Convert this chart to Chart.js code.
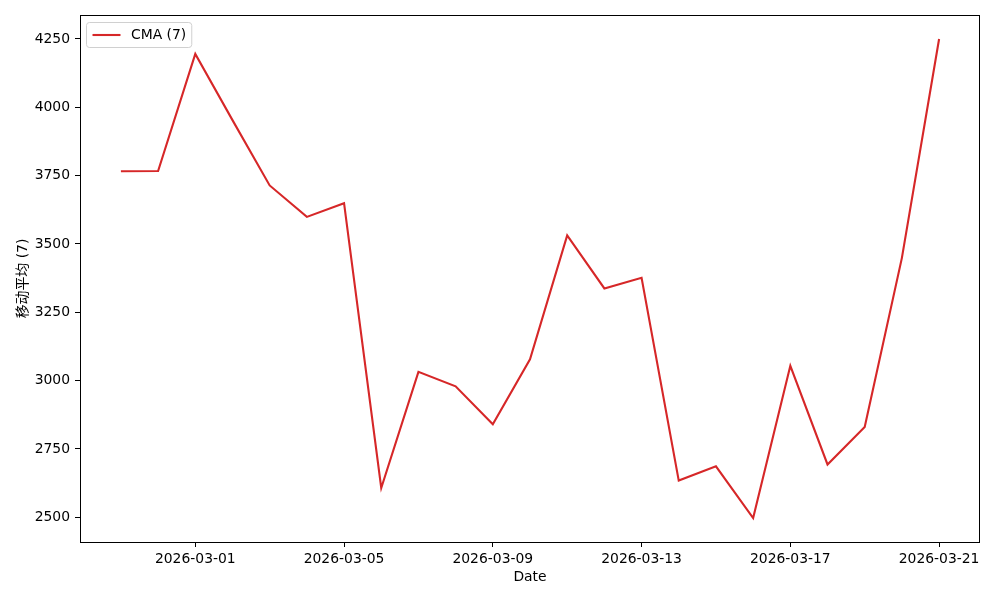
<!DOCTYPE html>
<html>
<head>
<meta charset="utf-8">
<script src="https://cdn.jsdelivr.net/npm/chart.js@4/dist/chart.umd.min.js"></script>
<style>
  html, body { margin: 0; padding: 0; background: #ffffff; }
  #wrap { width: 1000px; height: 600px; position: relative; }
</style>
</head>
<body>
<div id="wrap"><canvas id="c" width="1000" height="600"></canvas></div>
<script>
// ---- data ----
const dates = [
  "2026-02-27","2026-02-28","2026-03-01","2026-03-02","2026-03-03","2026-03-04",
  "2026-03-05","2026-03-06","2026-03-07","2026-03-08","2026-03-09","2026-03-10",
  "2026-03-11","2026-03-12","2026-03-13","2026-03-14","2026-03-15","2026-03-16",
  "2026-03-17","2026-03-18","2026-03-19","2026-03-20","2026-03-21"
];
const cmaValues = [
  3766, 3767, 4195, 3953, 3714, 3599,
  3649, 2607, 3032, 2979, 2840, 3078,
  3531, 3337, 3376, 2634, 2686, 2497,
  3054, 2693, 2830, 3449, 4250
];
const seriesLabel = "CMA (7)";
const xTickDates = ["2026-03-01","2026-03-05","2026-03-09","2026-03-13","2026-03-17","2026-03-21"];
const yTickValues = [2500, 2750, 3000, 3250, 3500, 3750, 4000, 4250];
const xTitle = "Date";
const yTitle = "移动平均 (7)";

// ---- chart ----
const FONT = "'DejaVu Sans', 'Noto Sans CJK SC', sans-serif";
const FS = 13.9;
const RED = "#d62728";

const points = dates.map((d, i) => ({ x: i, y: cmaValues[i] }));
const n = dates.length;
const xSpan = n - 1;
const yMin = Math.min(...cmaValues), yMax = Math.max(...cmaValues);
const ySpan = yMax - yMin;

const framePlugin = {
  id: 'frame',
  afterDatasetsDraw(chart) {
    const { ctx, chartArea: a } = chart;
    ctx.save();
    ctx.strokeStyle = '#000';
    ctx.lineWidth = 1;
    const l = Math.round(a.left), r = Math.round(a.right), t = Math.round(a.top), b = Math.round(a.bottom);
    ctx.strokeRect(l + 0.5, t + 0.5, r - l - 1, b - t);
    ctx.restore();
  },
  afterDraw(chart) {
    // legend box in upper-left of plot area (matplotlib style)
    const { ctx, chartArea: a } = chart;
    const ds = chart.data.datasets[0];
    ctx.save();
    ctx.font = FS + "px " + FONT;
    const tw = ctx.measureText(ds.label).width;
    const bx = a.left + 6.5, by = a.top + 7.5;
    const bw = 50 + tw, bh = 25;
    const r = 3;
    ctx.beginPath();
    ctx.moveTo(bx + r, by);
    ctx.lineTo(bx + bw - r, by);
    ctx.quadraticCurveTo(bx + bw, by, bx + bw, by + r);
    ctx.lineTo(bx + bw, by + bh - r);
    ctx.quadraticCurveTo(bx + bw, by + bh, bx + bw - r, by + bh);
    ctx.lineTo(bx + r, by + bh);
    ctx.quadraticCurveTo(bx, by + bh, bx, by + bh - r);
    ctx.lineTo(bx, by + r);
    ctx.quadraticCurveTo(bx, by, bx + r, by);
    ctx.closePath();
    ctx.fillStyle = 'rgba(255,255,255,0.8)';
    ctx.fill();
    ctx.strokeStyle = '#d0d0d0';
    ctx.lineWidth = 1;
    ctx.stroke();
    const cy = by + bh / 2;
    ctx.strokeStyle = ds.borderColor;
    ctx.lineWidth = ds.borderWidth;
    ctx.beginPath();
    ctx.moveTo(bx + 6, cy);
    ctx.lineTo(bx + 34, cy);
    ctx.stroke();
    ctx.fillStyle = '#000';
    ctx.textBaseline = 'middle';
    ctx.textAlign = 'left';
    ctx.fillText(ds.label, bx + 44.5, cy + 0.5);
    ctx.restore();
  }
};

new Chart(document.getElementById('c'), {
  type: 'line',
  data: {
    datasets: [{
      label: seriesLabel,
      data: points,
      borderColor: RED,
      backgroundColor: RED,
      borderWidth: 2.1,
      pointRadius: 0,
      tension: 0,
      fill: false
    }]
  },
  options: {
    responsive: false,
    animation: false,
    devicePixelRatio: 1,
    layout: { padding: { top: 15, right: 20, left: 0, bottom: 0 } },
    plugins: { legend: { display: false }, tooltip: { enabled: false } },
    scales: {
      x: {
        type: 'linear',
        min: -0.05 * xSpan,
        max: xSpan + 0.05 * xSpan,
        afterBuildTicks(scale) {
          scale.ticks = xTickDates.map(d => ({ value: dates.indexOf(d) }));
        },
        afterFit(scale) { scale.height = 58; },
        ticks: {
          autoSkip: false,
          maxRotation: 0,
          color: '#000',
          padding: 4,
          font: { family: FONT, size: FS },
          callback: (v) => dates[Math.round(v)] || ''
        },
        grid: { drawOnChartArea: false, tickLength: 5, color: '#000', tickColor: '#000' },
        border: { display: false },
        title: {
          display: true, text: xTitle, color: '#000',
          font: { family: FONT, size: FS },
          padding: { top: 0, bottom: 14.5 }
        }
      },
      y: {
        type: 'linear',
        min: yMin - 0.05 * ySpan,
        max: yMax + 0.05 * ySpan,
        afterBuildTicks(scale) {
          scale.ticks = yTickValues.map(v => ({ value: v }));
        },
        afterFit(scale) { scale.width = 80; },
        ticks: {
          color: '#000',
          padding: 5,
          font: { family: FONT, size: FS },
          callback: (v) => String(v)
        },
        grid: { drawOnChartArea: false, tickLength: 5, color: '#000', tickColor: '#000' },
        border: { display: false },
        title: {
          display: true, text: yTitle, color: '#000',
          font: { family: FONT, size: FS },
          padding: { top: 15, bottom: 0 }
        }
      }
    }
  },
  plugins: [framePlugin]
});
</script>
</body>
</html>
